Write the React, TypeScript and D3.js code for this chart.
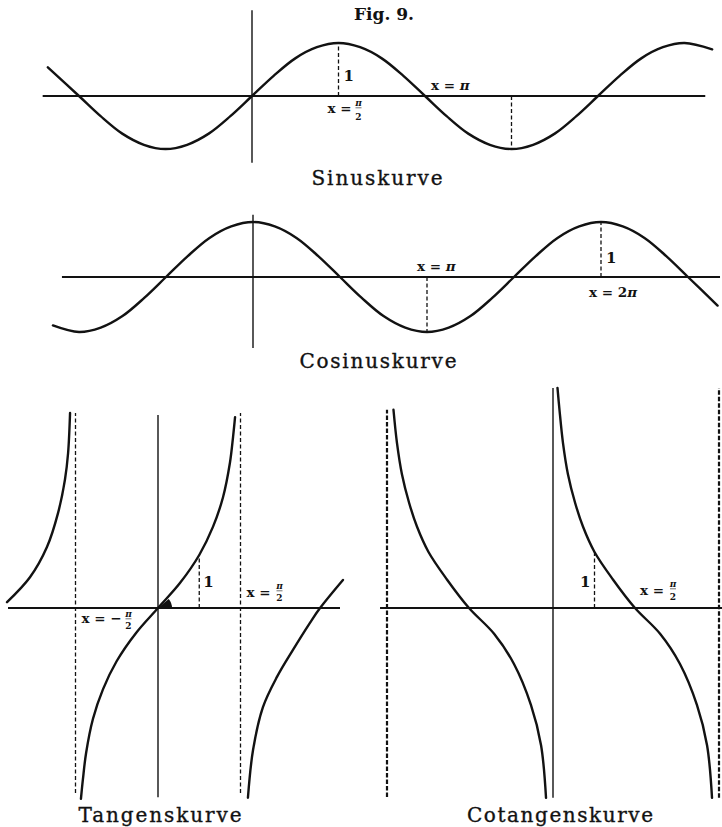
import React from 'react';
import * as d3 from 'd3';

// Abscissae are in multiples of π, ordinates in units of the function value.
const sineX = [-1.18, -1, -0.875, -0.75, -0.625, -0.5, -0.375, -0.25, -0.125, 0, 0.125, 0.25, 0.375, 0.5, 0.625, 0.75, 0.875, 1, 1.125, 1.25, 1.375, 1.5, 1.625, 1.75, 1.875, 2, 2.125, 2.25, 2.375, 2.5, 2.66];
const sineY = [0.54, 0, -0.38, -0.71, -0.92, -1, -0.92, -0.71, -0.38, 0, 0.38, 0.71, 0.92, 1, 0.92, 0.71, 0.38, 0, -0.38, -0.71, -0.92, -1, -0.92, -0.71, -0.38, 0, 0.38, 0.71, 0.92, 1, 0.88];

const cosineX = [-1.15, -1, -0.875, -0.75, -0.625, -0.5, -0.375, -0.25, -0.125, 0, 0.125, 0.25, 0.375, 0.5, 0.625, 0.75, 0.875, 1, 1.125, 1.25, 1.375, 1.5, 1.625, 1.75, 1.875, 2, 2.125, 2.25, 2.375, 2.5, 2.67];
const cosineY = [-0.88, -1, -0.92, -0.71, -0.38, 0, 0.38, 0.71, 0.92, 1, 0.92, 0.71, 0.38, 0, -0.38, -0.71, -0.92, -1, -0.92, -0.71, -0.38, 0, 0.38, 0.71, 0.92, 1, 0.92, 0.71, 0.38, 0, -0.52];

// Tangent branches
const tanLeftX = [-0.915, -0.776, -0.673, -0.606, -0.564, -0.545, -0.533];
const tanLeftY = [0.11, 0.58, 1.15, 1.79, 2.42, 2.92, 3.68];
const tanMidX = [-0.467, -0.455, -0.436, -0.394, -0.333, -0.25, -0.133, 0, 0.133, 0.25, 0.333, 0.394, 0.436, 0.455, 0.467];
const tanMidY = [-3.6, -3.23, -2.74, -2.09, -1.53, -1, -0.47, 0, 0.47, 1, 1.53, 2.09, 2.74, 3.23, 3.6];
const tanRightX = [0.545, 0.576, 0.636, 0.721, 0.818, 0.921, 0.982, 1.121];
const tanRightY = [-3.58, -2.68, -1.87, -1.3, -0.79, -0.28, 0, 0.53];

// Cotangent branches
const cotLeftX = [-0.961, -0.94, -0.91, -0.867, -0.819, -0.75, -0.639, -0.506, -0.355, -0.235, -0.133, -0.072, -0.042];
const cotLeftY = [3.54, 2.95, 2.39, 1.88, 1.45, 1.0, 0.51, 0, -0.46, -1.0, -1.73, -2.45, -3.39];
const cotMidX = [0.027, 0.039, 0.06, 0.09, 0.133, 0.181, 0.25, 0.361, 0.494, 0.645, 0.765, 0.867, 0.928, 0.958];
const cotMidY = [3.93, 3.54, 2.95, 2.39, 1.88, 1.45, 1.0, 0.51, 0, -0.46, -1.0, -1.73, -2.45, -3.39];

// Captions
const figureTitle = 'Fig. 9.';
const captions = ['Sinuskurve', 'Cosinuskurve', 'Tangenskurve', 'Cotangenskurve'];

type Pt = [number, number];
const zip = (xs: number[], ys: number[]): Pt[] => xs.map((x, i) => [x, ys[i]]);

const INK = '#121212';
const SERIF = '"DejaVu Serif", serif';

type Scale = d3.ScaleLinear<number, number>;

function curvePath(pts: Pt[], x: Scale, y: Scale) {
  return (
    d3
      .line<Pt>()
      .x((d) => x(d[0]))
      .y((d) => y(d[1]))
      .curve(d3.curveCatmullRom.alpha(0.5))(pts) || ''
  );
}

function Curve({ pts, x, y }: { pts: Pt[]; x: Scale; y: Scale }) {
  return (
    <path
      d={curvePath(pts, x, y)}
      fill="none"
      stroke={INK}
      strokeWidth={2.4}
      strokeLinecap="round"
      strokeLinejoin="round"
    />
  );
}

function Axes({
  x,
  y,
  xExtent,
  yExtent,
}: {
  x: Scale;
  y: Scale;
  xExtent: [number, number];
  yExtent: [number, number];
}) {
  return (
    <g stroke={INK}>
      <line x1={x(xExtent[0])} x2={x(xExtent[1])} y1={y(0)} y2={y(0)} strokeWidth={2} />
      <line x1={x(0)} x2={x(0)} y1={y(yExtent[0])} y2={y(yExtent[1])} strokeWidth={1.4} />
    </g>
  );
}

function Dashed({
  x,
  y,
  at,
  from,
  to,
  width = 1.3,
  dash = '4 2.5',
}: {
  x: Scale;
  y: Scale;
  at: number;
  from: number;
  to: number;
  width?: number;
  dash?: string;
}) {
  return (
    <line
      x1={x(at)}
      x2={x(at)}
      y1={y(from)}
      y2={y(to)}
      stroke={INK}
      strokeWidth={width}
      strokeDasharray={dash}
    />
  );
}

// Bold label; a trailing "π" is set in italic
function Label({
  x,
  y,
  text,
  pi = '',
  size = 13.5,
  anchor = 'start',
}: {
  x: number;
  y: number;
  text: string;
  pi?: string;
  size?: number;
  anchor?: string;
}) {
  return (
    <text x={x} y={y} fontFamily={SERIF} fontWeight="bold" fontSize={size} fill={INK} textAnchor={anchor as any}>
      {text}
      {pi ? <tspan fontStyle="italic">{pi}</tspan> : null}
    </text>
  );
}

function Frac({ cx, yNum, yDen, num, den }: { cx: number; yNum: number; yDen: number; num: string; den: string }) {
  return (
    <g fontFamily={SERIF} fontWeight="bold" fontSize={9} fill={INK} textAnchor="middle">
      <text x={cx} y={yNum} fontStyle="italic">{num}</text>
      <line x1={cx - 3} x2={cx + 3} y1={yNum + 1.8} y2={yNum + 1.8} stroke={INK} strokeWidth={0.6} />
      <text x={cx} y={yDen}>{den}</text>
    </g>
  );
}

function Caption({ cx, y, text, width }: { cx: number; y: number; text: string; width: number }) {
  return (
    <text
      x={cx - width / 2}
      y={y}
      fontFamily={SERIF}
      fontSize={20}
      fill={INK}
      stroke={INK}
      strokeWidth={0.35}
      textLength={width}
      lengthAdjust="spacing"
    >
      {text}
    </text>
  );
}

export default function App() {
  // Sine panel
  const sx = d3.scaleLinear().domain([0, 1]).range([252, 425]);
  const sy = d3.scaleLinear().domain([0, 1]).range([96, 43]);
  // Cosine panel
  const cx = d3.scaleLinear().domain([0, 1]).range([253, 427]);
  const cy = d3.scaleLinear().domain([0, 1]).range([277, 222]);
  // Tangent panel
  const tx = d3.scaleLinear().domain([0, 1]).range([158, 323]);
  const ty = d3.scaleLinear().domain([0, 1]).range([608, 555]);
  // Cotangent panel
  const kx = d3.scaleLinear().domain([0, 1]).range([553, 719]);
  const ky = d3.scaleLinear().domain([0, 1]).range([608, 552]);

  const arc = d3.arc<any>();
  const wedge =
    arc({ innerRadius: 0, outerRadius: 14, startAngle: Math.PI / 2 - 0.7, endAngle: Math.PI / 2 }) || '';

  return (
    <svg
      width={722}
      height={827}
      viewBox="0 0 722 827"
      style={{ position: 'absolute', left: 0, top: 0, background: '#fff' }}
    >
      <rect width={722} height={827} fill="#fff" />

      <text x={384} y={20} fontFamily={SERIF} fontWeight="bold" fontSize={17} fill={INK} textAnchor="middle">
        {figureTitle}
      </text>

      {/* Sinuskurve */}
      <g>
        <Axes x={sx} y={sy} xExtent={[-1.21, 2.62]} yExtent={[-1.26, 1.62]} />
        <Dashed x={sx} y={sy} at={0.5} from={0} to={1} />
        <Dashed x={sx} y={sy} at={1.5} from={0} to={-1} />
        <Curve pts={zip(sineX, sineY)} x={sx} y={sy} />
        <Label x={sx(0.5) + 5} y={sy(0.5) + 11} text="1" size={15} />
        <Label x={sx(0.5) - 11} y={sy(0) + 17} text="x =" />
        <Frac cx={sx(0.5) + 20} yNum={sy(0) + 10} yDen={sy(0) + 24} num="π" den="2" />
        <Label x={sx(1) + 6} y={sy(0) - 6} text="x = " pi="π" />
        <Caption cx={377} y={185} text={captions[0]} width={131} />
      </g>

      {/* Cosinuskurve */}
      <g>
        <Axes x={cx} y={cy} xExtent={[-1.098, 2.684]} yExtent={[-1.29, 1.13]} />
        <Dashed x={cx} y={cy} at={1} from={0} to={-1} />
        <Dashed x={cx} y={cy} at={2} from={0} to={1} />
        <Curve pts={zip(cosineX, cosineY)} x={cx} y={cy} />
        <Label x={cx(1) - 10} y={cy(0) - 6} text="x = " pi="π" />
        <Label x={cx(2) + 5} y={cy(0.5) + 13} text="1" size={15} />
        <Label x={cx(2) - 12} y={cy(0) + 20} text="x = 2" pi="π" />
        <Caption cx={378} y={368} text={captions[1]} width={157} />
      </g>

      {/* Tangenskurve */}
      <g>
        <Axes x={tx} y={ty} xExtent={[-0.909, 1.103]} yExtent={[-3.57, 3.64]} />
        <Dashed x={tx} y={ty} at={-0.5} from={-3.49} to={3.68} />
        <Dashed x={tx} y={ty} at={0.5} from={-3.49} to={3.68} />
        <Dashed x={tx} y={ty} at={0.25} from={0} to={1} />
        <Curve pts={zip(tanLeftX, tanLeftY)} x={tx} y={ty} />
        <Curve pts={zip(tanMidX, tanMidY)} x={tx} y={ty} />
        <Curve pts={zip(tanRightX, tanRightY)} x={tx} y={ty} />
        <path d={wedge} transform={`translate(${tx(0)},${ty(0)})`} fill={INK} />
        <Label x={tx(0.25) + 4} y={ty(0) - 21} text="1" size={15} />
        <Label x={tx(0.5) + 6} y={ty(0) - 11} text="x =" />
        <Frac cx={tx(0.5) + 39} yNum={ty(0) - 19} yDen={ty(0) - 7} num="π" den="2" />
        <Label x={tx(-0.5) + 6} y={ty(0) + 15} text="x = −" />
        <Frac cx={tx(-0.5) + 53} yNum={ty(0) + 9} yDen={ty(0) + 21} num="π" den="2" />
        <Caption cx={160} y={822} text={captions[2]} width={163} />
      </g>

      {/* Cotangenskurve */}
      <g>
        <Axes x={kx} y={ky} xExtent={[-1.042, 1.018]} yExtent={[-3.39, 3.93]} />
        <Dashed x={kx} y={ky} at={-1} from={-3.375} to={3.54} width={2.2} dash="4.5 2" />
        <Dashed x={kx} y={ky} at={1} from={-3.39} to={3.93} width={2.2} dash="4.5 2" />
        <Dashed x={kx} y={ky} at={0.25} from={0} to={1} />
        <Curve pts={zip(cotLeftX, cotLeftY)} x={kx} y={ky} />
        <Curve pts={zip(cotMidX, cotMidY)} x={kx} y={ky} />
        <Label x={kx(0.25) - 4} y={ky(0) - 21} text="1" size={15} anchor="end" />
        <Label x={kx(0.5) + 4} y={ky(0) - 13} text="x =" />
        <Frac cx={kx(0.5) + 37} yNum={ky(0) - 21} yDen={ky(0) - 8} num="π" den="2" />
        <Caption cx={560} y={822} text={captions[3]} width={186} />
      </g>
    </svg>
  );
}
